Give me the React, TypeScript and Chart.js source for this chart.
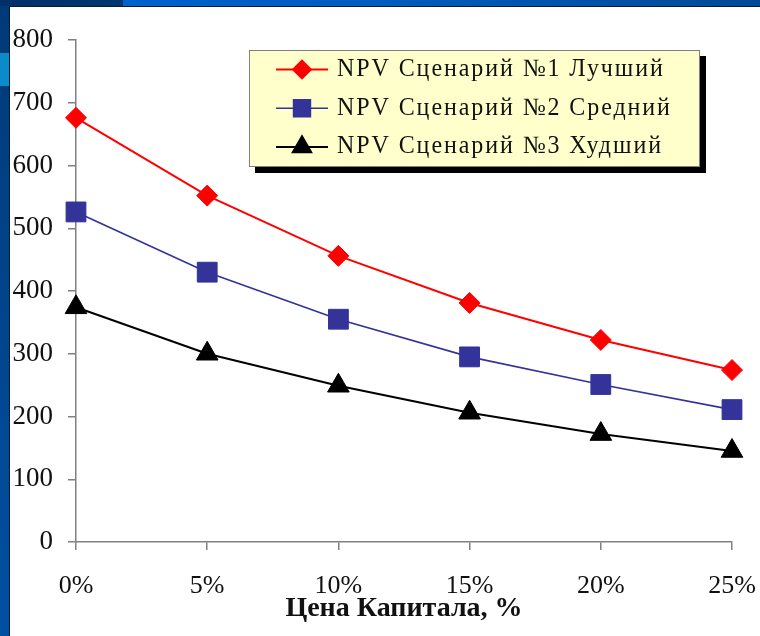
import React, { useEffect, useRef } from 'react';
import { Chart, registerables } from 'chart.js';
import { drawPoint } from 'chart.js/helpers';

Chart.register(...registerables);

const categories = ['0%', '5%', '10%', '15%', '20%', '25%'];
const bestScenario = [676, 552, 456, 381, 322, 274];
const mediumScenario = [526, 430, 355, 295, 251, 211];
const worstScenario = [374, 300, 249, 206, 172, 145];
const seriesLabels = ['NPV Сценарий №1 Лучший', 'NPV Сценарий №2 Средний', 'NPV Сценарий №3 Худший'];
const yMin = 0;
const yMax = 800;
const yStep = 100;
const xTitle = 'Цена Капитала, %';

const FONT = '"Liberation Serif", "Times New Roman", serif';

const boxLegend = {
  id: 'boxLegend',
  afterDraw(chart: any) {
    const ctx = chart.ctx as CanvasRenderingContext2D;
    const x0 = 249, y0 = 50, w = 451, h = 117;
    ctx.save();
    ctx.fillStyle = '#000';
    ctx.fillRect(x0 + 6, y0 + 6, w, h);
    ctx.fillStyle = '#FFFFCC';
    ctx.fillRect(x0, y0, w, h);
    ctx.strokeStyle = '#808080';
    ctx.lineWidth = 1;
    ctx.strokeRect(x0 + 0.5, y0 + 0.5, w - 1, h - 1);
    chart.data.datasets.forEach((ds: any, i: number) => {
      const cy = 69.5 + i * 38.7;
      ctx.strokeStyle = ds.borderColor;
      ctx.lineWidth = ds.borderWidth;
      ctx.beginPath();
      ctx.moveTo(276, cy);
      ctx.lineTo(328, cy);
      ctx.stroke();
      ctx.fillStyle = ds.pointBackgroundColor;
      ctx.strokeStyle = ds.pointBorderColor;
      drawPoint(ctx, { pointStyle: ds.pointStyle, radius: ds.pointRadius * 0.85, borderWidth: 1, rotation: 0 } as any, 302, cy);
      ctx.save();
      ctx.translate(337, cy);
      ctx.scale(0.96, 1);
      ctx.fillStyle = '#111';
      ctx.font = '25px ' + FONT;
      (ctx as any).letterSpacing = '2px';
      ctx.textBaseline = 'middle';
      ctx.textAlign = 'left';
      ctx.fillText(ds.label, 0, 0);
      ctx.restore();
    });
    ctx.restore();
  },
};

export default function App() {
  const canvasRef = useRef<HTMLCanvasElement | null>(null);

  useEffect(() => {
    document.body.style.margin = '0';
    const canvas = canvasRef.current;
    if (!canvas) return;
    const chart = new Chart(canvas, {
      type: 'line',
      data: {
        labels: categories,
        datasets: [
          {
            label: seriesLabels[0],
            data: bestScenario,
            borderColor: '#FF0000',
            backgroundColor: '#FF0000',
            pointBackgroundColor: '#FF0000',
            pointBorderColor: '#FF0000',
            borderWidth: 2,
            pointStyle: 'rectRot',
            pointRadius: 10.5,
            pointBorderWidth: 1,
            tension: 0,
            clip: false,
          },
          {
            label: seriesLabels[1],
            data: mediumScenario,
            borderColor: '#333399',
            backgroundColor: '#333399',
            pointBackgroundColor: '#333399',
            pointBorderColor: '#333399',
            borderWidth: 1.6,
            pointStyle: 'rect',
            pointRadius: 14,
            pointBorderWidth: 1,
            tension: 0,
            clip: false,
          },
          {
            label: seriesLabels[2],
            data: worstScenario,
            borderColor: '#000000',
            backgroundColor: '#000000',
            pointBackgroundColor: '#000000',
            pointBorderColor: '#000000',
            borderWidth: 2,
            pointStyle: 'triangle',
            pointRadius: 12.5,
            pointBorderWidth: 1,
            tension: 0,
            clip: false,
          },
        ] as any,
      },
      options: {
        animation: false,
        responsive: false,
        devicePixelRatio: 1,
        layout: { padding: { top: 40, right: 28, left: 0, bottom: 0 } },
        plugins: {
          legend: { display: false },
          tooltip: { enabled: false },
        },
        scales: {
          x: {
            type: 'category',
            offset: false,
            grid: { drawOnChartArea: false, drawTicks: true, tickLength: 8, color: '#808080', lineWidth: 1.5 },
            border: { display: true, color: '#808080', width: 1.5 },
            ticks: { font: { family: FONT, size: 26 }, color: '#111', padding: 21, maxRotation: 0, autoSkip: false },
            title: {
              display: true,
              text: xTitle,
              font: { family: FONT, size: 28, weight: 'bold' },
              color: '#111',
              padding: { top: 0, bottom: 10 },
            },
            afterFit: (s: any) => {
              s.height = 94;
              s.paddingLeft = 0;
              s.paddingRight = 0;
            },
          },
          y: {
            min: yMin,
            max: yMax,
            grid: { drawOnChartArea: false, drawTicks: true, tickLength: 8, color: '#808080', lineWidth: 1.5 },
            border: { display: true, color: '#808080', width: 1.5 },
            ticks: { stepSize: yStep, font: { family: FONT, size: 27 }, color: '#111', padding: 15 },
            afterFit: (s: any) => {
              s.width = 76;
              s.paddingTop = 0;
              s.paddingBottom = 0;
            },
          },
        },
      } as any,
      plugins: [boxLegend],
    });
    return () => chart.destroy();
  }, []);

  return (
    <div style={{ position: 'relative', width: 760, height: 636, overflow: 'hidden', background: '#003C80' }}>
      <div style={{ position: 'absolute', left: 0, top: 0, width: 760, height: 6, background: 'linear-gradient(to right, #00306A 0px, #00366F 123px, #0062CC 123px, #005CC0 50%, #004A96 100%)' }} />
      <div style={{ position: 'absolute', left: 0, top: 6, width: 9, height: 630, background: 'linear-gradient(to bottom, #003A78, #0050A2)' }} />
      <div style={{ position: 'absolute', left: 0, top: 53, width: 9, height: 33, background: '#0A8CCB' }} />
      <div style={{ position: 'absolute', left: 9, top: 6, right: 0, bottom: 0, background: '#FFFFFF', borderTop: '1px solid #0A1830', borderLeft: '1px solid #0A1830' }} />
      <canvas ref={canvasRef} width={760} height={636} style={{ position: 'absolute', left: 0, top: 0, width: 760, height: 636 }} />
    </div>
  );
}
